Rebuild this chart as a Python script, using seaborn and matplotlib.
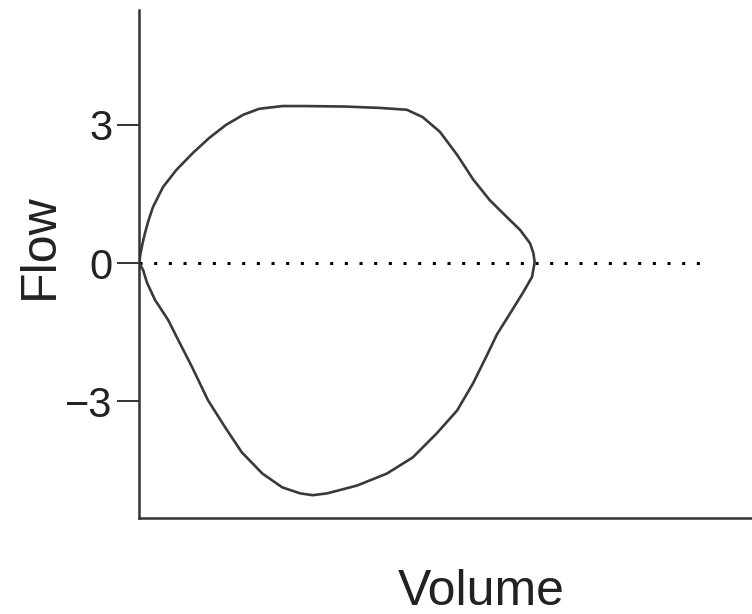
import numpy as np
import pandas as pd
import matplotlib
matplotlib.use("Agg")
import matplotlib.pyplot as plt
import seaborn as sns

# flow-volume loop (volume in L, flow in L/s)
# upper half left -> right, then lower half right -> left
volume = [0.00, 0.02, 0.05, 0.09, 0.14, 0.21, 0.36, 0.56, 0.81, 1.06, 1.31, 1.57, 1.81,
          2.16, 2.50, 3.10, 3.63, 4.04, 4.28, 4.54, 4.80, 5.04, 5.29, 5.55, 5.75,
          5.90, 5.95, 5.97, 5.93, 5.79, 5.60, 5.40, 5.25, 5.04, 4.80, 4.49, 4.13,
          3.74, 3.29, 2.84, 2.62, 2.43, 2.16, 1.86, 1.55, 1.30, 1.04, 0.80, 0.59,
          0.44, 0.24, 0.12, 0.06, 0.02, 0.00]
flow = [0.00, 0.20, 0.42, 0.66, 0.92, 1.22, 1.65, 2.02, 2.39, 2.72, 3.00, 3.22, 3.35,
        3.41, 3.41, 3.40, 3.37, 3.33, 3.17, 2.85, 2.35, 1.82, 1.37, 1.00, 0.72,
        0.43, 0.22, 0.02, -0.30, -0.65, -1.09, -1.55, -2.00, -2.61, -3.20, -3.70, -4.22,
        -4.57, -4.83, -5.00, -5.04, -5.00, -4.87, -4.57, -4.11, -3.57, -2.98, -2.26, -1.67,
        -1.24, -0.80, -0.43, -0.15, -0.05, 0.00]
baseline_volume = [0.0, 8.5]
baseline_flow = [0.0, 0.0]
yticks = [-3, 0, 3]
ytick_labels = ["\u22123", "0", "3"]

loop = pd.DataFrame({"Volume": volume, "Flow": flow})
base = pd.DataFrame({"Volume": baseline_volume, "Flow": baseline_flow})

sns.set_theme(style="ticks")
plt.rcParams["font.family"] = ["Liberation Sans", "DejaVu Sans"]

fig = plt.figure(figsize=(7.52, 6.14), dpi=100)
ax = fig.add_axes([0.185, 0.156, 0.815, 0.828])

sns.lineplot(data=base, x="Volume", y="Flow", ax=ax, color="black",
             linewidth=2.2, linestyle=(0, (1, 3.8)), dash_capstyle="butt")
sns.lineplot(data=loop, x="Volume", y="Flow", ax=ax, sort=False, estimator=None,
             color="#3a3a3a", linewidth=1.9, solid_joinstyle="round")

ax.set_xlim(0, 9.25)
ax.set_ylim(-5.54, 5.5)
ax.set_xticks([])
ax.set_yticks(yticks)
ax.set_yticklabels(ytick_labels)
ax.tick_params(axis="y", length=16, width=1.4, pad=3, labelsize=30,
               color="#333333", labelcolor="#222222")
ax.set_xlabel("Volume", fontsize=36, color="#222222")
ax.set_ylabel("Flow", fontsize=36, color="#222222")
ax.xaxis.set_label_coords(0.558, -0.1)
ax.yaxis.set_label_coords(-0.125, 0.535)

sns.despine(ax=ax)
for side in ["left", "bottom"]:
    ax.spines[side].set_linewidth(1.8)
    ax.spines[side].set_color("#333333")

fig.savefig("out.png", dpi=100)
